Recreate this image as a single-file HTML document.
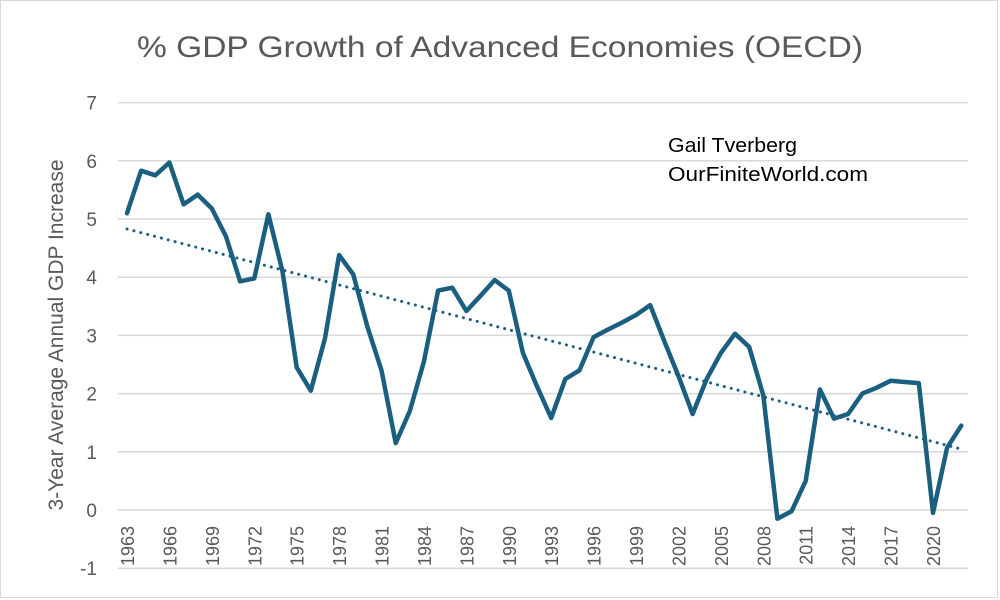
<!DOCTYPE html>
<html><head><meta charset="utf-8"><style>
html,body{margin:0;padding:0;background:#fff;}
svg{display:block;font-family:"Liberation Sans",sans-serif;}
</style></head><body>
<svg width="1000" height="600" viewBox="0 0 1000 600" xmlns="http://www.w3.org/2000/svg">
<rect x="0" y="0" width="1000" height="600" fill="#fff"/>
<rect x="0.5" y="0.5" width="997" height="597" fill="none" stroke="#d9d9d9"/>
<text x="137" y="57" font-size="30" fill="#595959" textLength="726" lengthAdjust="spacingAndGlyphs">% GDP Growth of Advanced Economies (OECD)</text>
<g stroke="#d9d9d9" stroke-width="1.5" id="grid"></g>
<g font-size="19" fill="#595959" text-anchor="end" id="ylab"></g>
<text transform="translate(63,335) rotate(-90)" text-anchor="middle" font-size="21" fill="#595959">3-Year Average Annual GDP Increase</text>
<g font-size="18" fill="#595959" id="xlab"></g>
<text x="668" y="152" font-size="20" fill="#000" textLength="129" lengthAdjust="spacingAndGlyphs">Gail Tverberg</text>
<text x="668" y="181" font-size="20" fill="#000" textLength="200" lengthAdjust="spacingAndGlyphs">OurFiniteWorld.com</text>
<line x1="127" y1="229" x2="961" y2="449" stroke="#1a5f7f" stroke-width="3" stroke-dasharray="0.1 7" stroke-linecap="round"/>
<polyline id="series" fill="none" stroke="#1a5f7f" stroke-width="4.5" stroke-linejoin="round" stroke-linecap="round" points=""/>
<script>
var ns="http://www.w3.org/2000/svg";
function Y(v){return 510-v*58.2;}
function X(i){return 127+i*14.14;}
var g=document.getElementById('grid'),yl=document.getElementById('ylab'),xl=document.getElementById('xlab');
for(var v=-1;v<=7;v++){var l=document.createElementNS(ns,'line');l.setAttribute('x1',118);l.setAttribute('x2',968);l.setAttribute('y1',Y(v));l.setAttribute('y2',Y(v));g.appendChild(l);
var t=document.createElementNS(ns,'text');t.setAttribute('x',97);t.setAttribute('y',Y(v)+7);t.textContent=v;yl.appendChild(t);}
for(var yr=1963;yr<=2020;yr+=3){var i=yr-1963;var t=document.createElementNS(ns,'text');t.setAttribute('transform','translate('+(X(i)+7)+',526) rotate(-90)');t.setAttribute('text-anchor','end');t.textContent=yr;xl.appendChild(t);}
var d=[5.1,5.83,5.75,5.97,5.25,5.42,5.18,4.7,3.93,3.98,5.08,4.1,2.45,2.05,2.95,4.38,4.05,3.15,2.4,1.15,1.7,2.55,3.77,3.82,3.42,3.68,3.95,3.77,2.7,2.12,1.58,2.25,2.4,2.97,3.1,3.22,3.35,3.52,2.9,2.3,1.65,2.25,2.7,3.03,2.8,1.97,-0.15,-0.02,0.5,2.07,1.57,1.65,2.0,2.1,2.22,2.2,2.18,-0.05,1.07,1.45];
document.getElementById('series').setAttribute('points',d.map(function(v,i){return X(i).toFixed(1)+','+Y(v).toFixed(1);}).join(' '));
</script>
</svg>
</body></html>
